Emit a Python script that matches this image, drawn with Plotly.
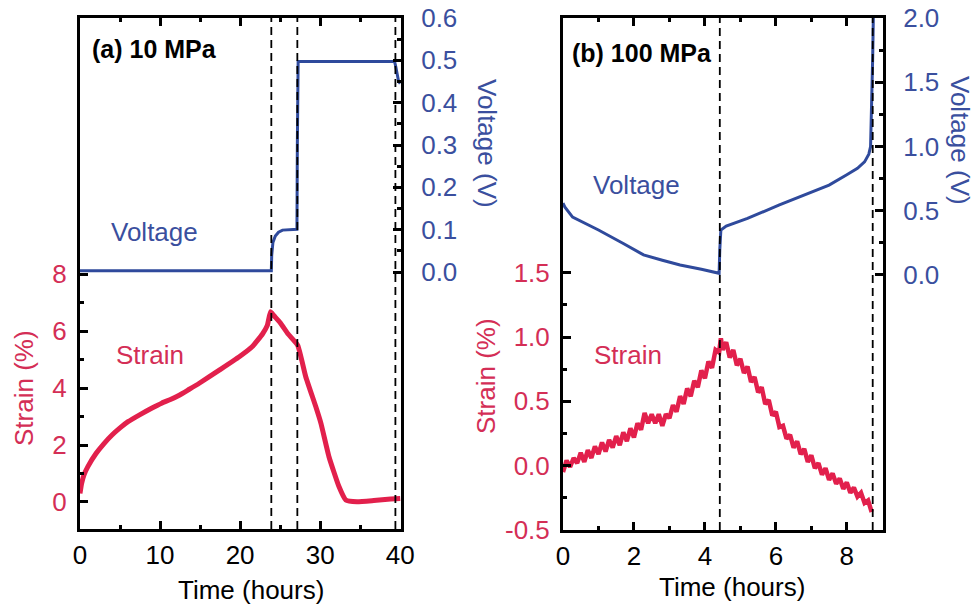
import plotly.graph_objects as go

# ---------------- data: panel (a) 10 MPa ----------------
t_volt_a = [0, 1, 10, 20, 23.9, 23.95, 24.1, 24.4, 24.8, 25.3, 27.1, 27.15, 27.25, 30, 35, 39.3, 39.45, 39.6, 39.8, 40]
v_a = [0.003, 0.003, 0.003, 0.003, 0.003, 0.04, 0.07, 0.085, 0.094, 0.099, 0.101, 0.30, 0.497, 0.497, 0.497, 0.497, 0.485, 0.465, 0.45, 0.445]

t_strain_a = [0, 0.2, 0.5, 1, 2, 3, 4, 5, 6, 7.5, 9, 10.2, 11.3, 12.4, 13.6, 14.9, 17.4, 19.9, 21.5, 22.8, 23.4, 23.8,
              24.2, 25, 26, 27.2, 28.2, 29.45, 30.1, 31.1, 32.35, 33.2, 34.6, 36.7, 38.8, 40]
s_a = [0.3, 0.65, 0.95, 1.25, 1.7, 2.05, 2.35, 2.6, 2.82, 3.07, 3.3, 3.47, 3.6, 3.75, 3.95, 4.17, 4.63, 5.1, 5.45, 5.9, 6.2, 6.68,
       6.55, 6.3, 5.9, 5.5, 4.4, 3.35, 2.76, 1.59, 0.54, 0.07, 0.01, 0.05, 0.1, 0.12]

dash_a = [23.9, 27.15, 39.4]

# ---------------- data: panel (b) 100 MPa ----------------
t_volt_b = [0, 0.05, 0.27, 1.0, 1.7, 2.27, 2.8, 3.3, 3.9, 4.4, 4.42, 4.45, 4.6, 5.2, 6.1, 7.0, 7.5, 8.0, 8.3, 8.5,
            8.62, 8.67, 8.7, 8.73, 8.75]
v_b = [0.56, 0.53, 0.45, 0.35, 0.245, 0.156, 0.115, 0.078, 0.045, 0.013, 0.2, 0.35, 0.38, 0.44, 0.545, 0.645, 0.70,
       0.78, 0.83, 0.88, 0.94, 1.0, 1.3, 1.7, 2.05]

t_strain_b = [0.0, 0.1, 0.2, 0.3, 0.4, 0.5, 0.6, 0.7, 0.8, 0.9, 1.0, 1.1, 1.2, 1.3, 1.4, 1.5, 1.6, 1.7, 1.8, 1.9,
              2.0, 2.1, 2.2, 2.3, 2.4, 2.5, 2.6, 2.7, 2.8, 2.9, 3.0, 3.1, 3.2, 3.3, 3.4, 3.5, 3.6, 3.7, 3.8, 3.9,
              4.0, 4.1, 4.2, 4.3, 4.4, 4.45, 4.5, 4.6, 4.7, 4.8, 4.9, 5.0, 5.1, 5.2, 5.3, 5.4, 5.5, 5.6, 5.7, 5.8,
              5.9, 6.0, 6.1, 6.2, 6.3, 6.4, 6.5, 6.6, 6.7, 6.8, 6.9, 7.0, 7.1, 7.2, 7.3, 7.4, 7.5, 7.6, 7.7, 7.8,
              7.9, 8.0, 8.1, 8.2, 8.3, 8.4, 8.5, 8.6, 8.7]
s_b = [-0.05, 0.04, -0.01, 0.06, 0.02, 0.10, 0.03, 0.12, 0.06, 0.15, 0.09, 0.18, 0.11, 0.20, 0.14, 0.23, 0.16, 0.26, 0.19, 0.29,
       0.22, 0.33, 0.28, 0.41, 0.33, 0.40, 0.33, 0.40, 0.31, 0.40, 0.37, 0.47, 0.42, 0.54, 0.48, 0.60, 0.54, 0.66, 0.61, 0.74,
       0.68, 0.81, 0.76, 0.90, 0.88, 0.99, 0.90, 0.96, 0.84, 0.90, 0.78, 0.83, 0.72, 0.77, 0.65, 0.69, 0.57, 0.61, 0.48, 0.51,
       0.39, 0.42, 0.30, 0.31, 0.21, 0.24, 0.14, 0.19, 0.09, 0.13, 0.03, 0.08, -0.02, 0.02, -0.07, -0.02, -0.11, -0.06, -0.14, -0.10,
       -0.18, -0.13, -0.21, -0.17, -0.24, -0.21, -0.29, -0.27, -0.36]

dash_b = [4.42, 8.73]

# tick labels
x_ticks_a = [0, 10, 20, 30, 40]
x_minor_a = [5, 15, 25, 35]
s_ticks_a = [0, 2, 4, 6, 8]
s_minor_a = [1, 3, 5, 7]
v_ticks_a = [0.0, 0.1, 0.2, 0.3, 0.4, 0.5, 0.6]
v_minor_a = [0.05, 0.15, 0.25, 0.35, 0.45, 0.55]
x_ticks_b = [0, 2, 4, 6, 8]
x_minor_b = [1, 3, 5, 7]
s_ticks_b = [-0.5, 0.0, 0.5, 1.0, 1.5]
s_minor_b = [-0.25, 0.25, 0.75, 1.25]
v_ticks_b = [0.0, 0.5, 1.0, 1.5, 2.0]
v_minor_b = [0.25, 0.75, 1.25, 1.75]

RED_LINE = "#E2204C"
RED_TXT = "#D42E56"
BLUE_LINE = "#2F4A9C"
BLUE_TXT = "#3A4F9E"
FONT = "Liberation Sans, Arial, sans-serif"
FS = 26

W, H = 976, 608
def px(x):
    return x / W
def py(y):
    return 1 - y / H

fig = go.Figure()
fig.add_trace(go.Scatter(x=t_strain_a, y=s_a, mode="lines", line=dict(color=RED_LINE, width=5, shape="spline", smoothing=0.4), xaxis="x", yaxis="y"))
fig.add_trace(go.Scatter(x=t_volt_a, y=v_a, mode="lines", line=dict(color=BLUE_LINE, width=3), xaxis="x", yaxis="y2"))
fig.add_trace(go.Scatter(x=t_strain_b, y=s_b, mode="lines", line=dict(color=RED_LINE, width=4.5), xaxis="x2", yaxis="y3"))
fig.add_trace(go.Scatter(x=t_volt_b, y=v_b, mode="lines", line=dict(color=BLUE_LINE, width=3), xaxis="x2", yaxis="y4"))

common = dict(showline=True, linecolor="black", linewidth=3, ticks="inside", ticklen=8, tickwidth=2.5,
              tickcolor="black", showgrid=False, zeroline=False, fixedrange=True, automargin=False)

def xax(dom, rng, tv, mv, anchor):
    return dict(domain=dom, range=rng, tickvals=tv, mirror="ticks", anchor=anchor,
                minor=dict(tickvals=mv, ticks="inside", ticklen=4, tickwidth=2.5, tickcolor="black"),
                tickfont=dict(family=FONT, size=FS, color="black"), ticklabelstandoff=1, **common)

def yax(dom, rng, tv, tt, mv, anchor, color, side, overlay=None, standoff=6):
    d = dict(range=rng, tickvals=tv, ticktext=tt, anchor=anchor, side=side, mirror=False,
             minor=dict(tickvals=mv, ticks="inside", ticklen=4, tickwidth=2.5, tickcolor="black"),
             tickfont=dict(family=FONT, size=FS, color=color), ticklabelstandoff=standoff, **common)
    if overlay:
        d["overlaying"] = overlay
    else:
        d["domain"] = dom
    return d

ydom = [py(529), py(18)]
fig.update_layout(
    width=W, height=H, margin=dict(l=0, r=0, t=0, b=0, autoexpand=False), showlegend=False,
    paper_bgcolor="white", plot_bgcolor="white",
    xaxis=xax([px(80), px(401)], [0, 40.1], x_ticks_a, x_minor_a, "y"),
    yaxis=yax(ydom, [-0.95, 17], s_ticks_a, [str(v) for v in s_ticks_a], s_minor_a, "x", RED_TXT, "left", standoff=5),
    yaxis2=yax(None, [-0.607, 0.6], v_ticks_a, [f"{v:.1f}" for v in v_ticks_a], v_minor_a, "x", BLUE_TXT, "right", overlay="y", standoff=12),
    xaxis2=xax([px(563), px(883)], [0, 9.02], x_ticks_b, x_minor_b, "y3"),
    yaxis3=yax([py(530), py(18)], [-0.5, 3.48], s_ticks_b, [f"{v:.1f}" for v in s_ticks_b], s_minor_b, "x2", RED_TXT, "left", standoff=5),
    yaxis4=yax(None, [-1.985, 2.0], v_ticks_b, [f"{v:.1f}" for v in v_ticks_b], v_minor_b, "x2", BLUE_TXT, "right", overlay="y3", standoff=12),
)

shapes = []
for xv in dash_a:
    shapes.append(dict(type="line", xref="x", yref="y domain", x0=xv, x1=xv, y0=0, y1=1,
                       line=dict(color="black", width=1.8, dash="8px,5px"), layer="above"))
for xv in dash_b:
    shapes.append(dict(type="line", xref="x2", yref="y3 domain", x0=xv, x1=xv, y0=0, y1=1,
                       line=dict(color="black", width=1.8, dash="8px,5px"), layer="above"))
fig.update_layout(shapes=shapes)

def ann(text, x, y, color, xanchor="center", angle=0, bold=False, size=FS):
    fig.add_annotation(text=f"<b>{text}</b>" if bold else text, x=px(x), y=py(y), xref="paper", yref="paper",
                       xanchor=xanchor, yanchor="middle", showarrow=False, textangle=angle,
                       font=dict(family=FONT, size=size, color=color))

ann("(a) 10 MPa", 90, 49, "black", xanchor="left", bold=True, size=25)
ann("(b) 100 MPa", 570, 53, "black", xanchor="left", bold=True, size=25)
ann("Voltage", 154, 232, BLUE_TXT)
ann("Strain", 150, 355, RED_TXT)
ann("Voltage", 636, 185, BLUE_TXT)
ann("Strain", 628, 355, RED_TXT)
ann("Strain (%)", 24, 388, RED_TXT, angle=-90)
ann("Voltage (V)", 487, 143, BLUE_TXT, angle=90)
ann("Strain (%)", 486, 376, RED_TXT, angle=-90)
ann("Voltage (V)", 960, 140, BLUE_TXT, angle=90)
ann("Time (hours)", 251, 590, "black")
ann("Time (hours)", 732, 587, "black")

fig.write_html("out.html")
